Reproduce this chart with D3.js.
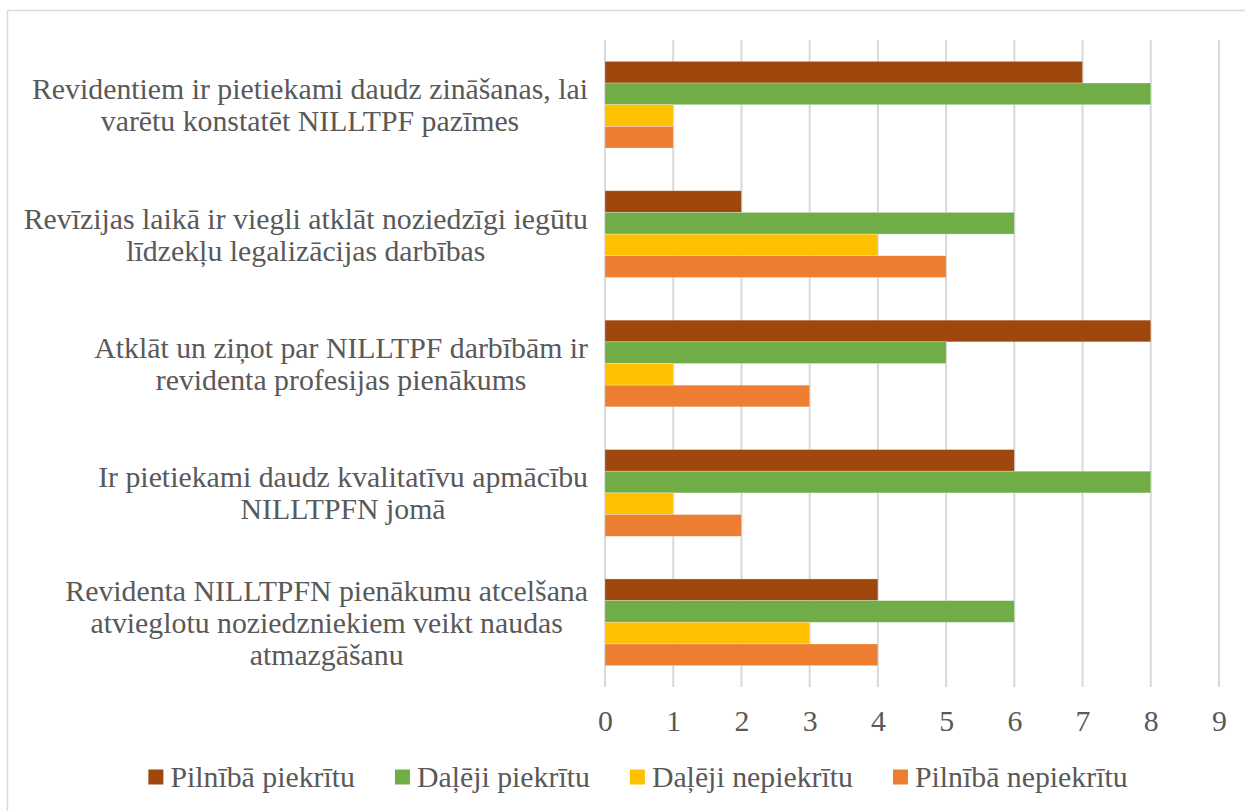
<!DOCTYPE html>
<html>
<head>
<meta charset="utf-8">
<script src="https://cdn.jsdelivr.net/npm/d3@7"></script>
<style>
  html, body { margin: 0; padding: 0; background: #fff; }
</style>
</head>
<body>
<svg id="chart" width="1245" height="811"></svg>
<script>
const categories = [
  ["Revidentiem ir pietiekami daudz zināšanas, lai", "varētu konstatēt NILLTPF pazīmes"],
  ["Revīzijas laikā ir viegli atklāt noziedzīgi iegūtu", "līdzekļu legalizācijas darbības"],
  ["Atklāt un ziņot par NILLTPF darbībām ir", "revidenta profesijas pienākums"],
  ["Ir pietiekami daudz kvalitatīvu apmācību", "NILLTPFN jomā"],
  ["Revidenta NILLTPFN pienākumu atcelšana", "atvieglotu noziedzniekiem veikt naudas", "atmazgāšanu"]
];
const seriesNames = ["Pilnībā piekrītu", "Daļēji piekrītu", "Daļēji nepiekrītu", "Pilnībā nepiekrītu"];
const seriesColors = ["#9E480E", "#70AD47", "#FFC000", "#ED7D31"];
const pilnibaPiekritu   = [7, 2, 8, 6, 4];
const dalejiPiekritu    = [8, 6, 5, 8, 6];
const dalejiNepiekritu  = [1, 4, 1, 1, 3];
const pilnibaNepiekritu = [1, 5, 3, 2, 4];
const tickValues = [0, 1, 2, 3, 4, 5, 6, 7, 8, 9];

const seriesValues = [pilnibaPiekritu, dalejiPiekritu, dalejiNepiekritu, pilnibaNepiekritu];

const FONT = "'Liberation Serif', 'Times New Roman', serif";
const svg = d3.select("#chart");
const textColor = "#595959";
const gridColor = "#d9d9d9";
const fontSize = 29.8;

// chart frame
svg.append("rect")
  .attr("x", 7.5).attr("y", 10.5)
  .attr("width", 1260).attr("height", 820)
  .attr("fill", "#fff").attr("stroke", gridColor).attr("stroke-width", 1.5);

const plot = { left: 605, right: 1219, top: 40, bottom: 687 };

const x = d3.scaleLinear().domain([0, 9]).range([plot.left, plot.right]);
const y = d3.scaleBand().domain(d3.range(categories.length))
  .range([plot.top, plot.bottom]).paddingInner(0.33).paddingOuter(0.165);
const ySub = d3.scaleBand().domain(d3.range(seriesNames.length))
  .range([0, y.bandwidth()]);

// gridlines
svg.append("g").selectAll("line").data(tickValues).join("line")
  .attr("x1", d => x(d)).attr("x2", d => x(d))
  .attr("y1", plot.top).attr("y2", plot.bottom)
  .attr("stroke", gridColor).attr("stroke-width", 2);

// bars
const groups = svg.append("g").selectAll("g").data(categories).join("g")
  .attr("transform", (d, i) => `translate(0,${y(i)})`);
groups.each(function(d, i) {
  d3.select(this).selectAll("rect").data(seriesValues.map((s, k) => ({ k, v: s[i] })))
    .join("rect")
    .attr("x", x(0))
    .attr("y", e => ySub(e.k))
    .attr("width", e => x(e.v) - x(0))
    .attr("height", ySub.bandwidth())
    .attr("fill", e => seriesColors[e.k])
    .attr("stroke", "#ffffff").attr("stroke-opacity", 0.35).attr("stroke-width", 0.75);
});

// x axis tick labels
const xAxis = d3.axisBottom(x).tickValues(tickValues).tickSize(0).tickPadding(0).tickFormat(d3.format("d"));
const gx = svg.append("g").attr("transform", `translate(0,${plot.bottom})`).call(xAxis);
gx.select(".domain").remove();
gx.attr("font-family", null).attr("font-size", null);
gx.selectAll("text")
  .attr("y", 0).attr("dy", 0)
  .attr("transform", "translate(0,44)")
  .attr("fill", textColor)
  .style("font-size", fontSize + "px")
  .style("font-family", FONT);

// category labels
const labelRight = 588;
const lineH = 32;
const lab = svg.append("g");
categories.forEach((lines, i) => {
  const cy = y(i) + y.bandwidth() / 2;
  const t = lab.append("text")
    .attr("fill", textColor)
    .style("font-size", fontSize + "px")
    .style("font-family", FONT)
    .attr("text-anchor", "middle");
  const spans = lines.map((ln, j) => t.append("tspan")
    .attr("y", cy + (j - (lines.length - 1) / 2) * lineH)
    .attr("dy", "0.35em")
    .text(ln));
  const maxW = d3.max(spans, s => s.node().getComputedTextLength());
  spans.forEach(s => s.attr("x", labelRight - maxW / 2));
});

// legend
const legendY = 777;
const sq = 15, sqGap = 7, itemGap = 40;
const leg = svg.append("g");
const items = seriesNames.map((name, k) => {
  const g = leg.append("g");
  g.append("rect").attr("width", sq).attr("height", sq)
    .attr("y", legendY - sq / 2).attr("fill", seriesColors[k]);
  const t = g.append("text").attr("x", sq + sqGap).attr("y", legendY).attr("dy", "0.35em")
    .attr("fill", textColor)
    .style("font-size", fontSize + "px")
    .style("font-family", FONT)
    .text(name);
  return { g, w: sq + sqGap + t.node().getComputedTextLength() };
});
const totalW = d3.sum(items, d => d.w) + itemGap * (items.length - 1);
let lx = 638 - totalW / 2;
items.forEach(it => { it.g.attr("transform", `translate(${lx},0)`); lx += it.w + itemGap; });
</script>
</body>
</html>
